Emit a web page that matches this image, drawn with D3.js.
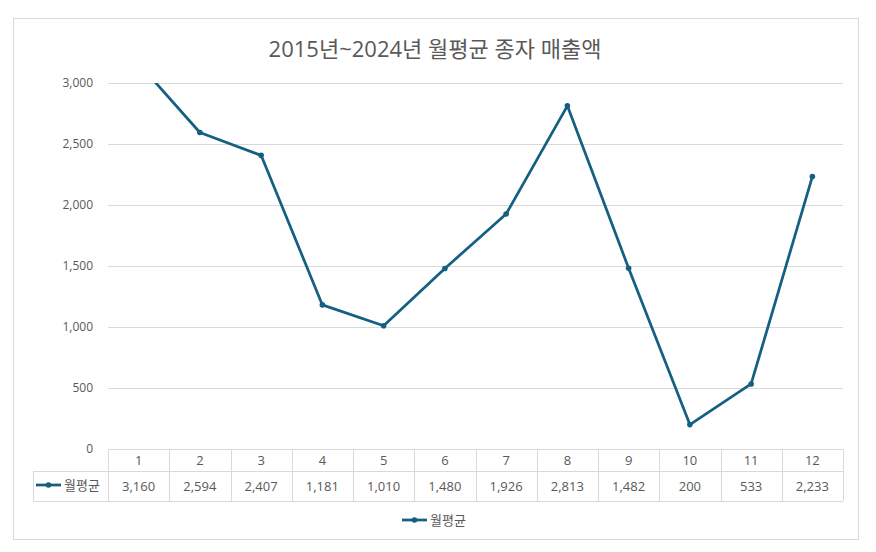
<!DOCTYPE html>
<html>
<head>
<meta charset="utf-8">
<script src="https://cdn.jsdelivr.net/npm/d3@7"></script>
<style>
  body { margin: 0; background: #fff; }
  text { font-family: "Open Sans", "Noto Sans CJK KR", sans-serif; fill: #595959; }
</style>
</head>
<body>
<div id="chart"></div>
<script>
// chart data
const title = "2015년~2024년 월평균 종자 매출액";
const seriesName = "월평균";
const months = ["1", "2", "3", "4", "5", "6", "7", "8", "9", "10", "11", "12"];
const values = [3160, 2594, 2407, 1181, 1010, 1480, 1926, 2813, 1482, 200, 533, 2233];
const yTicks = [0, 500, 1000, 1500, 2000, 2500, 3000];

const W = 876, H = 552;
const lineColor = "#156082";
const gridColor = "#d9d9d9";

// plot area
const margin = {top: 83, right: 33, bottom: 103, left: 108};
const width = W - margin.left - margin.right;
const height = H - margin.top - margin.bottom;

const svg = d3.select("#chart").append("svg")
	.attr("width", W)
	.attr("height", H);

// chart border
svg.append("rect")
	.attr("x", 13.5).attr("y", 18.5)
	.attr("width", 845).attr("height", 521)
	.attr("fill", "#fff")
	.attr("stroke", "#d9d9d9");

// title
svg.append("text")
	.attr("x", 435).attr("y", 57)
	.attr("text-anchor", "middle")
	.style("font-size", "22px")
	.text(title);

const g = svg.append("g")
	.attr("transform", "translate(" + margin.left + "," + margin.top + ")");

// scales
const x = d3.scaleBand()
	.domain(months)
	.range([0, width]);
const y = d3.scaleLinear()
	.domain([0, 3000])
	.range([height, 0]);

// gridlines + y labels
const yAxis = d3.axisLeft(y)
	.tickValues(yTicks)
	.tickSize(-width)
	.tickPadding(15)
	.tickFormat(d3.format(","));
const yg = g.append("g").call(yAxis);
yg.select(".domain").remove();
yg.selectAll(".tick line").attr("stroke", gridColor);
yg.selectAll(".tick text")
	.style("font-size", "12px")
	.attr("fill", "#595959");

// clip the line to the plot area
svg.append("defs").append("clipPath")
	.attr("id", "plotclip")
	.append("rect")
	.attr("x", 0).attr("y", 0)
	.attr("width", width).attr("height", height);

const data = months.map((m, i) => ({month: m, value: values[i]}));
const line = d3.line()
	.x(d => x(d.month) + x.bandwidth() / 2)
	.y(d => y(d.value));

const plot = g.append("g").attr("clip-path", "url(#plotclip)");
plot.append("path")
	.datum(data)
	.attr("fill", "none")
	.attr("stroke", lineColor)
	.attr("stroke-width", 2.75)
	.attr("stroke-linejoin", "round")
	.attr("d", line);
plot.selectAll("circle")
	.data(data)
	.enter().append("circle")
	.attr("cx", d => x(d.month) + x.bandwidth() / 2)
	.attr("cy", d => y(d.value))
	.attr("r", 2.8)
	.attr("fill", lineColor);

// data table below plot
const rowH1 = 22, rowH2 = 30;
const keyLeft = 33 - margin.left;
const tbl = g.append("g").attr("transform", "translate(0," + height + ")");

tbl.append("line")
	.attr("x1", 0).attr("x2", width)
	.attr("y1", 0.5).attr("y2", 0.5)
	.attr("stroke", gridColor);
[rowH1, rowH1 + rowH2].forEach(yy => {
	tbl.append("line")
		.attr("x1", keyLeft).attr("x2", width)
		.attr("y1", yy + 0.5).attr("y2", yy + 0.5)
		.attr("stroke", gridColor);
});
tbl.append("line")
	.attr("x1", keyLeft + 0.5).attr("x2", keyLeft + 0.5)
	.attr("y1", rowH1).attr("y2", rowH1 + rowH2)
	.attr("stroke", gridColor);
months.concat([null]).forEach((m, i) => {
	const xx = m === null ? width : x(m);
	tbl.append("line")
		.attr("x1", Math.round(xx) + 0.5).attr("x2", Math.round(xx) + 0.5)
		.attr("y1", 0).attr("y2", rowH1 + rowH2)
		.attr("stroke", gridColor);
});

tbl.selectAll(".cat")
	.data(months)
	.enter().append("text")
	.attr("class", "cat")
	.attr("x", d => x(d) + x.bandwidth() / 2)
	.attr("y", rowH1 / 2 + 5)
	.attr("text-anchor", "middle")
	.style("font-size", "13px")
	.text(d => d);

tbl.selectAll(".val")
	.data(data)
	.enter().append("text")
	.attr("class", "val")
	.attr("x", d => x(d.month) + x.bandwidth() / 2)
	.attr("y", rowH1 + rowH2 / 2 + 5)
	.attr("text-anchor", "middle")
	.style("font-size", "13px")
	.text(d => d3.format(",")(d.value));

// legend key inside table
function legendKey(parent, x0, yc) {
	parent.append("line")
		.attr("x1", x0).attr("x2", x0 + 25)
		.attr("y1", yc).attr("y2", yc)
		.attr("stroke", lineColor)
		.attr("stroke-width", 2.75);
	parent.append("circle")
		.attr("cx", x0 + 12.5).attr("cy", yc)
		.attr("r", 2.8)
		.attr("fill", lineColor);
	parent.append("text")
		.attr("x", x0 + 28).attr("y", yc + 5)
		.style("font-size", "13px")
		.text(seriesName);
}
legendKey(tbl, keyLeft + 3, rowH1 + rowH2 / 2 - 1);

// bottom legend
legendKey(svg, 402, 520);
</script>
</body>
</html>
